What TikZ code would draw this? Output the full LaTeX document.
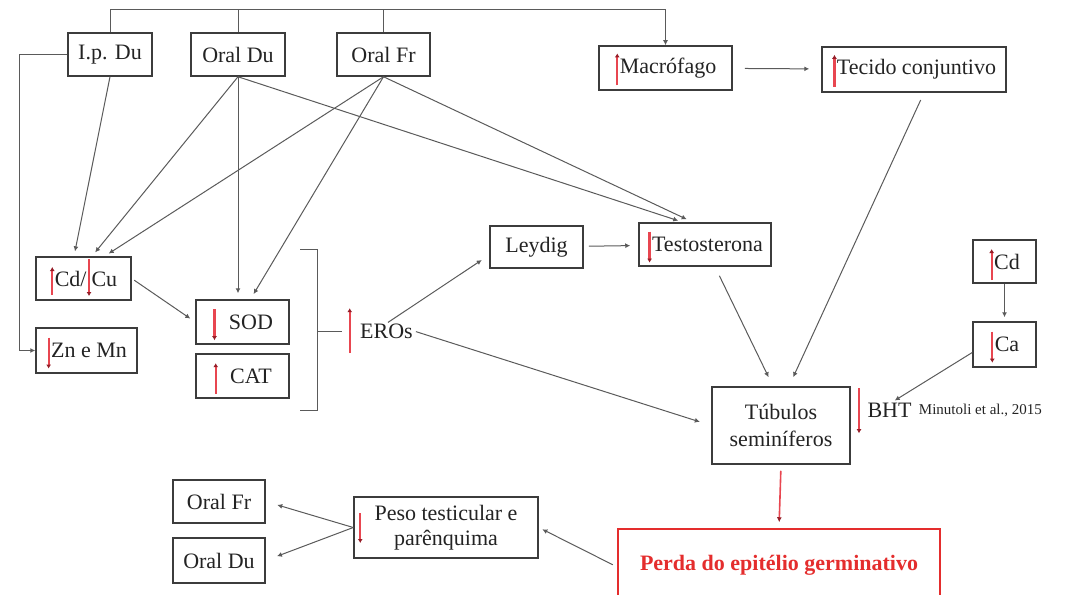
\documentclass[tikz,border=0pt]{standalone}
\usepackage{fontspec}
\setmainfont{Liberation Serif}
\usetikzlibrary{arrows.meta,positioning}

\definecolor{boxc}{RGB}{60,60,60}
\definecolor{lin}{RGB}{90,90,90}
\definecolor{txt}{RGB}{35,35,35}
\definecolor{indred}{RGB}{232,70,80}
\definecolor{tipc}{RGB}{150,30,40}
\definecolor{perdared}{RGB}{228,45,45}

\tikzset{
  box/.style={draw=boxc, line width=1.5pt, minimum height=43, inner sep=2pt, text=txt,
    font=\fontsize{22}{25}\selectfont},
  lbl/.style={text=txt, inner sep=1pt, font=\fontsize{22}{25}\selectfont},
  conn/.style={draw=lin, line width=1pt, -{Latex[length=5pt,width=5pt]}},
  plain/.style={draw=lin, line width=1pt},
  ind/.style={draw=indred, line width=2.2pt, -{Latex[length=4pt,width=5pt,color=tipc]}}
}

% small red up / down marks placed in the text
\newcommand{\arrup}[2]{\smash{\tikz[baseline=0pt]\draw[ind] (0pt,-#1pt) -- (0pt,#2pt);}}
\newcommand{\arrdown}[2]{\smash{\tikz[baseline=0pt]\draw[ind] (0pt,#2pt) -- (0pt,-#1pt);}}

\begin{document}
\begin{tikzpicture}[x=1pt,y=-1pt]
\useasboundingbox (0,0) rectangle (1075,594);

% top row
\node[box, minimum width=84] (lpdu) at (110,54.5) {I.p. Du};
\node[box, minimum width=94] (oraldu) at (238,54.5) {Oral Du};
\node[box, minimum width=93] (oralfr) at (383.5,54.5) {Oral Fr};
\node[box, minimum width=133, minimum height=44] (macro) at (665.5,68) {\arrup{12}{20}Macrófago};
\node[box, minimum width=184, minimum height=45] (tecido) at (914,69.5) {\arrup{12}{20}Tecido conjuntivo};

% left column
\node[box, minimum width=95] (cdcu) at (83.5,278.5) {\arrup{9}{19}Cd/\arrdown{10}{27}Cu};
\node[box, minimum width=101, minimum height=45] (znmn) at (86.5,350.5) {\arrdown{11}{20}Zn e Mn};
\node[box, minimum width=93, minimum height=44] (sod) at (242.5,322) {\arrdown{11}{20}\hspace{12pt}SOD};
\node[box, minimum width=93, minimum height=44] (cat) at (242.5,376) {\arrup{11}{20}\hspace{12pt}CAT};
\node[lbl] (eros) at (380,331) {\arrup{15}{30}\hspace{8pt}EROs};

% middle
\node[box, minimum width=93, minimum height=42] (leydig) at (536.5,247) {Leydig};
\node[box, minimum width=132] (testo) at (705,244.5) {\arrdown{11}{20}Testosterona};
\node[box, minimum width=63] (cd) at (1004.5,261.5) {\arrup{11}{20}Cd};
\node[box, minimum width=63, minimum height=45] (ca) at (1004.5,344.5) {\arrdown{11}{20}Ca};
\node[box, minimum width=138, minimum height=77, align=center, font=\fontsize{22}{27}\selectfont] (tub) at (781,425.5) {Túbulos\\seminíferos};
\node[lbl] (bht) at (884,410) {\arrdown{16}{29}\hspace{6pt}BHT};
\node[lbl, right=5pt of bht, font=\fontsize{15}{17}\selectfont] (ref) {Minutoli et al., 2015};

% bottom
\node[box, draw=perdared, text=perdared, minimum width=322, minimum height=72,
  font=\bfseries\fontsize{22}{25}\selectfont] (perda) at (779,565) {Perda do epitélio germinativo};
\node[box, minimum width=184, minimum height=61, align=center] (peso) at (446,527.5) {Peso testicular e\\parênquima};
\node[box, minimum width=92] (oralfr2) at (219,501.5) {Oral Fr};
\node[box, minimum width=92, minimum height=45] (oraldu2) at (219,560.5) {Oral Du};
\draw[ind] ([xshift=7pt,yshift=14.5pt]peso.west) -- ([xshift=7pt,yshift=-15.5pt]peso.west);

% top bar
\coordinate (topbar) at (665.5,10);
\draw[conn] (lpdu.north) |- (topbar) -- (macro.north);
\draw[plain] (oraldu.north) -- (oraldu.north |- topbar);
\draw[plain] (oralfr.north) -- (oralfr.north |- topbar);
\draw[conn, shorten <=12pt, shorten >=12pt] (macro) -- (tecido);

% left loop
\draw[conn] (lpdu.west) -- ++(-48,0) |- (znmn.west);

% into Cd/Cu
\draw[conn, shorten >=5pt] (lpdu.south) -- ([xshift=-9.5pt]cdcu.north);
\draw[conn, shorten >=5pt] (oraldu.south) -- ([xshift=8.5pt]cdcu.north);
\draw[conn, shorten >=5pt] (oralfr.south) -- ([xshift=21pt]cdcu.north);

% into SOD
\draw[conn, shorten >=6pt] (oraldu.south) -- (oraldu.south |- sod.north);
\draw[conn, shorten >=6pt] (oralfr.south) -- ([xshift=8pt]sod.north);
\draw[conn, shorten <=3pt, shorten >=6pt] (cdcu.east) -- (sod.west);

% into Testosterona
\draw[conn, shorten >=5pt] (oraldu.south) -- ([xshift=-22pt]testo.north);
\draw[conn, shorten >=7pt] (oralfr.south) -- ([xshift=-12pt]testo.north);

% bracket round SOD and CAT
\coordinate (brk) at (342,331);
\draw[plain] (300,249) -- (317,249) -- (317,410) -- (300,410);
\draw[plain] (317,331) -- (brk);

% EROs
\draw[conn, shorten >=9pt] ([xshift=8pt]eros.north) -- ([yshift=-8pt]leydig.west);
\draw[conn, shorten <=2pt, shorten >=12pt] (eros.east) -- (tub.west);
\draw[conn, shorten <=5pt, shorten >=8pt] (leydig) -- (testo);

% into Tubulos
\draw[conn, shorten <=10pt, shorten >=10pt] ([xshift=10pt]testo.south) -- ([xshift=-8pt]tub.north);
\draw[conn, shorten <=8pt, shorten >=10pt] ([xshift=10pt]tecido.south) -- ([xshift=8pt]tub.north);
\draw[conn, shorten >=4pt] (cd) -- (ca);
\draw[conn, shorten >=2pt] ([yshift=-8pt]ca.west) -- ([xshift=9pt]bht.north);
\draw[conn, draw=indred, line width=1.6pt, shorten <=6pt, shorten >=6pt,
  -{Latex[length=5pt,width=5pt,color=tipc]}] (tub.south) -- (perda.north);

% bottom row
\draw[conn, shorten <=5pt, shorten >=4pt] ([yshift=-2pt]perda.west) -- (peso.east);
\draw[conn, shorten >=12pt] (peso.west) -- (oralfr2.east);
\draw[conn, shorten >=12pt] (peso.west) -- (oraldu2.east);
\end{tikzpicture}
\end{document}
